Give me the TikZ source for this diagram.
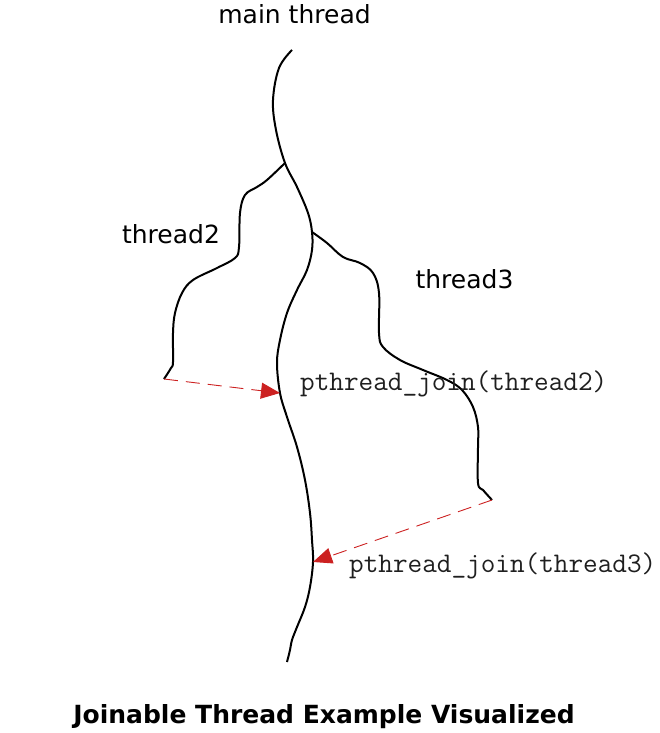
\documentclass[tikz,border=0pt]{standalone}
\usepackage{fontspec}
\setmainfont{DejaVu Sans}
\usetikzlibrary{arrows.meta}
\definecolor{joinred}{rgb}{0.8,0.13,0.13}
\definecolor{codegray}{rgb}{0.12,0.12,0.12}
\tikzset{
  thread/.style={black, line width=2pt},
  joinarrow/.style={joinred, line width=0.9pt, dash pattern=on 14pt off 8pt, -{Triangle[length=19pt,width=16pt]}},
  label/.style={inner sep=0pt, anchor=base, font=\fontsize{25}{30}\selectfont},
  code/.style={inner sep=0pt, anchor=base west, text=codegray, font=\fontsize{28.4}{32}\selectfont\ttfamily}
}

\begin{document}
\begin{tikzpicture}[x=1pt,y=-1pt]
            \useasboundingbox (0,0) rectangle (660,733);
            \coordinate (branch2) at (285,163);
            \coordinate (branch3) at (312,232);
            \coordinate (end2) at (164,379);
            \coordinate (end3) at (492,500);
            \coordinate (join2) at (280,393);
            \coordinate (join3) at (313,562);
            % main thread
            \draw[thread] plot[smooth, tension=0.6] coordinates {(292,50) (279,68) (273,100) (276,130) (branch2) (297,187) (308,213) (branch3) (312,250) (307,270) (297,290) (287,313) (280,340) (277,363) (join2) (287,417) (297,447) (305,480) (310,513) (312,540) (join3) (310,587) (305,607) (297,627) (292,640) (290,650) (287,662)};
            % thread2
            \draw[thread] plot[smooth, tension=0.6] coordinates {(branch2) (267,180) (257,187) (245,195) (240,213) (239,247) (235,258) (217,268) (193,280) (182,293) (175,313) (173,333) (173,362) (171,368) (end2)};
            % thread3
            \draw[thread] plot[smooth, tension=0.6] coordinates {(branch3) (327,243) (343,257) (360,263) (373,273) (379,293) (379,333) (383,347) (400,360) (423,370) (447,380) (462,390) (473,407) (478,427) (478,447) (478,483) (483,490) (end3)};
            \draw[joinarrow] (end2) -- (join2);
            \draw[joinarrow] (end3) -- (join3);
            \node[label] (mainlbl) at (294.5,24) {main thread};
            \node[label] (t2lbl) at (171,243) {thread2};
            \node[label] (t3lbl) at (464.5,288) {thread3};
            \node[code] (join2lbl) at (300,390) {pthread\_join(thread2)};
            \node[code] (join3lbl) at (349,572) {pthread\_join(thread3)};
            \node[label, font=\fontsize{25}{30}\selectfont\bfseries] (title) at (324,723) {Joinable Thread Example Visualized};
\end{tikzpicture}
\end{document}
